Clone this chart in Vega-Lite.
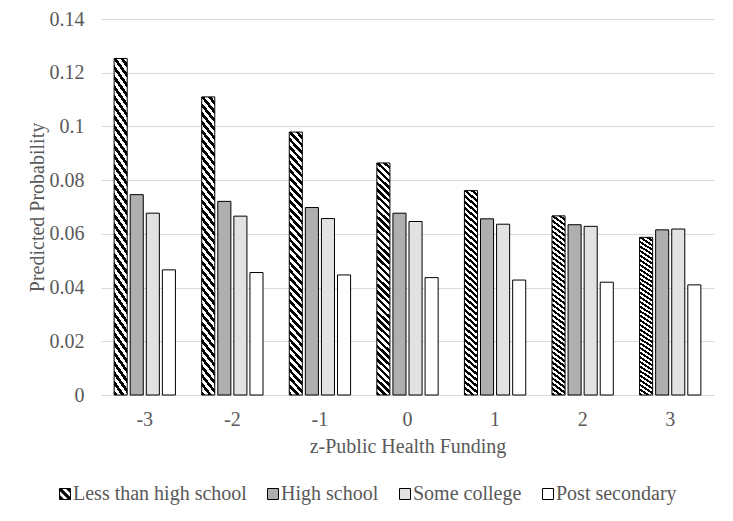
{
  "$schema": "https://vega.github.io/schema/vega-lite/v6.json",
  "width": 613,
  "height": 376,
  "autosize": {"type": "none"},
  "padding": {"left": 101, "top": 19, "right": 19, "bottom": 126},
  "background": "#ffffff",
  "config": {
    "view": {"stroke": null},
    "font": "Liberation Serif, Times New Roman, serif",
    "axis": {"labelFont": "Liberation Serif, Times New Roman, serif", "titleFont": "Liberation Serif, Times New Roman, serif", "labelColor": "#595959", "titleColor": "#595959", "labelFontSize": 20, "titleFontSize": 20, "titleFontWeight": "normal", "ticks": false},
    "legend": {"labelFont": "Liberation Serif, Times New Roman, serif", "labelColor": "#595959", "labelFontSize": 20, "labelLimit": 400}
  },
  "data": {
    "values": [
      {"z": "-3", "edu": "Less than high school", "p": 0.1253},
      {"z": "-3", "edu": "High school", "p": 0.0746},
      {"z": "-3", "edu": "Some college", "p": 0.0677},
      {"z": "-3", "edu": "Post secondary", "p": 0.0466},
      {"z": "-2", "edu": "Less than high school", "p": 0.1110},
      {"z": "-2", "edu": "High school", "p": 0.0721},
      {"z": "-2", "edu": "Some college", "p": 0.0666},
      {"z": "-2", "edu": "Post secondary", "p": 0.0456},
      {"z": "-1", "edu": "Less than high school", "p": 0.0979},
      {"z": "-1", "edu": "High school", "p": 0.0698},
      {"z": "-1", "edu": "Some college", "p": 0.0657},
      {"z": "-1", "edu": "Post secondary", "p": 0.0447},
      {"z": "0", "edu": "Less than high school", "p": 0.0864},
      {"z": "0", "edu": "High school", "p": 0.0677},
      {"z": "0", "edu": "Some college", "p": 0.0646},
      {"z": "0", "edu": "Post secondary", "p": 0.0437},
      {"z": "1", "edu": "Less than high school", "p": 0.0761},
      {"z": "1", "edu": "High school", "p": 0.0656},
      {"z": "1", "edu": "Some college", "p": 0.0636},
      {"z": "1", "edu": "Post secondary", "p": 0.0428},
      {"z": "2", "edu": "Less than high school", "p": 0.0667},
      {"z": "2", "edu": "High school", "p": 0.0634},
      {"z": "2", "edu": "Some college", "p": 0.0628},
      {"z": "2", "edu": "Post secondary", "p": 0.0420},
      {"z": "3", "edu": "Less than high school", "p": 0.0587},
      {"z": "3", "edu": "High school", "p": 0.0615},
      {"z": "3", "edu": "Some college", "p": 0.0618},
      {"z": "3", "edu": "Post secondary", "p": 0.0410}
    ]
  },
  "encoding": {
    "x": {
      "field": "z", "type": "ordinal",
      "scale": {"domain": ["-3", "-2", "-1", "0", "1", "2", "3"], "paddingInner": 0.3, "paddingOuter": 0.15},
      "axis": {"title": "z-Public Health Funding", "labelAngle": 0, "labelPadding": 14, "titlePadding": 7, "domainColor": "#d9d9d9", "domainWidth": 1, "grid": false}
    },
    "xOffset": {
      "field": "edu", "type": "nominal",
      "scale": {"domain": ["Less than high school", "High school", "Some college", "Post secondary"], "paddingInner": 0.1875, "paddingOuter": 0}
    },
    "y": {
      "field": "p", "type": "quantitative",
      "scale": {"domain": [0, 0.14], "nice": false},
      "axis": {"title": "Predicted Probability", "values": [0, 0.02, 0.04, 0.06, 0.08, 0.1, 0.12, 0.14], "format": "~g", "domain": false, "gridColor": "#d9d9d9", "gridWidth": 1, "labelPadding": 17, "titlePadding": 2}
    }
  },
  "layer": [
    {
      "mark": {"type": "bar", "stroke": "#000000", "strokeWidth": 1},
      "encoding": {
        "fill": {
          "condition": [
            {"test": "datum.edu === 'Less than high school'", "value": {"gradient": "linear", "x1": 1, "y1": 0, "x2": 0.943, "y2": 1.0511, "stops": [
            {"offset": 0, "color": "#fff"}, {"offset": 0.0139, "color": "#fff"},
            {"offset": 0.0139, "color": "#000"}, {"offset": 0.0278, "color": "#000"},
            {"offset": 0.0278, "color": "#fff"}, {"offset": 0.0417, "color": "#fff"},
            {"offset": 0.0417, "color": "#000"}, {"offset": 0.0556, "color": "#000"},
            {"offset": 0.0556, "color": "#fff"}, {"offset": 0.0694, "color": "#fff"},
            {"offset": 0.0694, "color": "#000"}, {"offset": 0.0833, "color": "#000"},
            {"offset": 0.0833, "color": "#fff"}, {"offset": 0.0972, "color": "#fff"},
            {"offset": 0.0972, "color": "#000"}, {"offset": 0.1111, "color": "#000"},
            {"offset": 0.1111, "color": "#fff"}, {"offset": 0.125, "color": "#fff"},
            {"offset": 0.125, "color": "#000"}, {"offset": 0.1389, "color": "#000"},
            {"offset": 0.1389, "color": "#fff"}, {"offset": 0.1528, "color": "#fff"},
            {"offset": 0.1528, "color": "#000"}, {"offset": 0.1667, "color": "#000"},
            {"offset": 0.1667, "color": "#fff"}, {"offset": 0.1806, "color": "#fff"},
            {"offset": 0.1806, "color": "#000"}, {"offset": 0.1944, "color": "#000"},
            {"offset": 0.1944, "color": "#fff"}, {"offset": 0.2083, "color": "#fff"},
            {"offset": 0.2083, "color": "#000"}, {"offset": 0.2222, "color": "#000"},
            {"offset": 0.2222, "color": "#fff"}, {"offset": 0.2361, "color": "#fff"},
            {"offset": 0.2361, "color": "#000"}, {"offset": 0.25, "color": "#000"},
            {"offset": 0.25, "color": "#fff"}, {"offset": 0.2639, "color": "#fff"},
            {"offset": 0.2639, "color": "#000"}, {"offset": 0.2778, "color": "#000"},
            {"offset": 0.2778, "color": "#fff"}, {"offset": 0.2917, "color": "#fff"},
            {"offset": 0.2917, "color": "#000"}, {"offset": 0.3056, "color": "#000"},
            {"offset": 0.3056, "color": "#fff"}, {"offset": 0.3194, "color": "#fff"},
            {"offset": 0.3194, "color": "#000"}, {"offset": 0.3333, "color": "#000"},
            {"offset": 0.3333, "color": "#fff"}, {"offset": 0.3472, "color": "#fff"},
            {"offset": 0.3472, "color": "#000"}, {"offset": 0.3611, "color": "#000"},
            {"offset": 0.3611, "color": "#fff"}, {"offset": 0.375, "color": "#fff"},
            {"offset": 0.375, "color": "#000"}, {"offset": 0.3889, "color": "#000"},
            {"offset": 0.3889, "color": "#fff"}, {"offset": 0.4028, "color": "#fff"},
            {"offset": 0.4028, "color": "#000"}, {"offset": 0.4167, "color": "#000"},
            {"offset": 0.4167, "color": "#fff"}, {"offset": 0.4306, "color": "#fff"},
            {"offset": 0.4306, "color": "#000"}, {"offset": 0.4444, "color": "#000"},
            {"offset": 0.4444, "color": "#fff"}, {"offset": 0.4583, "color": "#fff"},
            {"offset": 0.4583, "color": "#000"}, {"offset": 0.4722, "color": "#000"},
            {"offset": 0.4722, "color": "#fff"}, {"offset": 0.4861, "color": "#fff"},
            {"offset": 0.4861, "color": "#000"}, {"offset": 0.5, "color": "#000"},
            {"offset": 0.5, "color": "#fff"}, {"offset": 0.5139, "color": "#fff"},
            {"offset": 0.5139, "color": "#000"}, {"offset": 0.5278, "color": "#000"},
            {"offset": 0.5278, "color": "#fff"}, {"offset": 0.5417, "color": "#fff"},
            {"offset": 0.5417, "color": "#000"}, {"offset": 0.5556, "color": "#000"},
            {"offset": 0.5556, "color": "#fff"}, {"offset": 0.5694, "color": "#fff"},
            {"offset": 0.5694, "color": "#000"}, {"offset": 0.5833, "color": "#000"},
            {"offset": 0.5833, "color": "#fff"}, {"offset": 0.5972, "color": "#fff"},
            {"offset": 0.5972, "color": "#000"}, {"offset": 0.6111, "color": "#000"},
            {"offset": 0.6111, "color": "#fff"}, {"offset": 0.625, "color": "#fff"},
            {"offset": 0.625, "color": "#000"}, {"offset": 0.6389, "color": "#000"},
            {"offset": 0.6389, "color": "#fff"}, {"offset": 0.6528, "color": "#fff"},
            {"offset": 0.6528, "color": "#000"}, {"offset": 0.6667, "color": "#000"},
            {"offset": 0.6667, "color": "#fff"}, {"offset": 0.6806, "color": "#fff"},
            {"offset": 0.6806, "color": "#000"}, {"offset": 0.6944, "color": "#000"},
            {"offset": 0.6944, "color": "#fff"}, {"offset": 0.7083, "color": "#fff"},
            {"offset": 0.7083, "color": "#000"}, {"offset": 0.7222, "color": "#000"},
            {"offset": 0.7222, "color": "#fff"}, {"offset": 0.7361, "color": "#fff"},
            {"offset": 0.7361, "color": "#000"}, {"offset": 0.75, "color": "#000"},
            {"offset": 0.75, "color": "#fff"}, {"offset": 0.7639, "color": "#fff"},
            {"offset": 0.7639, "color": "#000"}, {"offset": 0.7778, "color": "#000"},
            {"offset": 0.7778, "color": "#fff"}, {"offset": 0.7917, "color": "#fff"},
            {"offset": 0.7917, "color": "#000"}, {"offset": 0.8056, "color": "#000"},
            {"offset": 0.8056, "color": "#fff"}, {"offset": 0.8194, "color": "#fff"},
            {"offset": 0.8194, "color": "#000"}, {"offset": 0.8333, "color": "#000"},
            {"offset": 0.8333, "color": "#fff"}, {"offset": 0.8472, "color": "#fff"},
            {"offset": 0.8472, "color": "#000"}, {"offset": 0.8611, "color": "#000"},
            {"offset": 0.8611, "color": "#fff"}, {"offset": 0.875, "color": "#fff"},
            {"offset": 0.875, "color": "#000"}, {"offset": 0.8889, "color": "#000"},
            {"offset": 0.8889, "color": "#fff"}, {"offset": 0.9028, "color": "#fff"},
            {"offset": 0.9028, "color": "#000"}, {"offset": 0.9167, "color": "#000"},
            {"offset": 0.9167, "color": "#fff"}, {"offset": 0.9306, "color": "#fff"},
            {"offset": 0.9306, "color": "#000"}, {"offset": 0.9444, "color": "#000"},
            {"offset": 0.9444, "color": "#fff"}, {"offset": 0.9583, "color": "#fff"},
            {"offset": 0.9583, "color": "#000"}, {"offset": 0.9722, "color": "#000"},
            {"offset": 0.9722, "color": "#fff"}, {"offset": 0.9861, "color": "#fff"},
            {"offset": 0.9861, "color": "#000"}, {"offset": 1, "color": "#000"}
            ]}},
            {"test": "datum.edu === 'High school'", "value": "#afafaf"},
            {"test": "datum.edu === 'Some college'", "value": "#e2e2e2"}
          ],
          "value": "#ffffff"
        }
      }
    },
    {
      "mark": {"type": "point", "filled": true, "opacity": 0, "strokeWidth": 1, "size": 121},
      "encoding": {
        "fill": {
          "field": "edu", "type": "nominal",
          "scale": {"domain": ["Less than high school", "High school", "Some college", "Post secondary"], "range": ["#000000", "#afafaf", "#e2e2e2", "#ffffff"]},
          "legend": {
            "title": null, "orient": "none", "direction": "horizontal", "legendX": -46, "legendY": 465,
            "symbolSize": 121, "symbolStrokeWidth": 1, "symbolOpacity": 1,
            "labelOffset": -2, "columnPadding": 16, "padding": 0, "labelLimit": 400
          }
        },
        "stroke": {
          "field": "edu", "type": "nominal",
          "scale": {"domain": ["Less than high school", "High school", "Some college", "Post secondary"], "range": ["#000000", "#000000", "#000000", "#000000"]},
          "legend": {
            "title": null, "orient": "none", "direction": "horizontal", "legendX": -46, "legendY": 465,
            "symbolSize": 121, "symbolStrokeWidth": 1, "symbolOpacity": 1,
            "labelOffset": -2, "columnPadding": 16, "padding": 0, "labelLimit": 400
          }
        },
        "shape": {
          "field": "edu", "type": "nominal",
          "scale": {"domain": ["Less than high school", "High school", "Some college", "Post secondary"], "range": ["M-1,-1L1,-1L1,1L-1,1ZM-0.7,-1L1,0.7L1,-0.2L0.2,-1ZM-1,-0.7L-1,0.2L-0.2,1L0.7,1Z", "square", "square", "square"]},
          "legend": {
            "title": null, "orient": "none", "direction": "horizontal", "legendX": -46, "legendY": 465,
            "symbolSize": 121, "symbolStrokeWidth": 1, "symbolOpacity": 1,
            "labelOffset": -2, "columnPadding": 16, "padding": 0, "labelLimit": 400
          }
        }
      }
    }
  ]
}
